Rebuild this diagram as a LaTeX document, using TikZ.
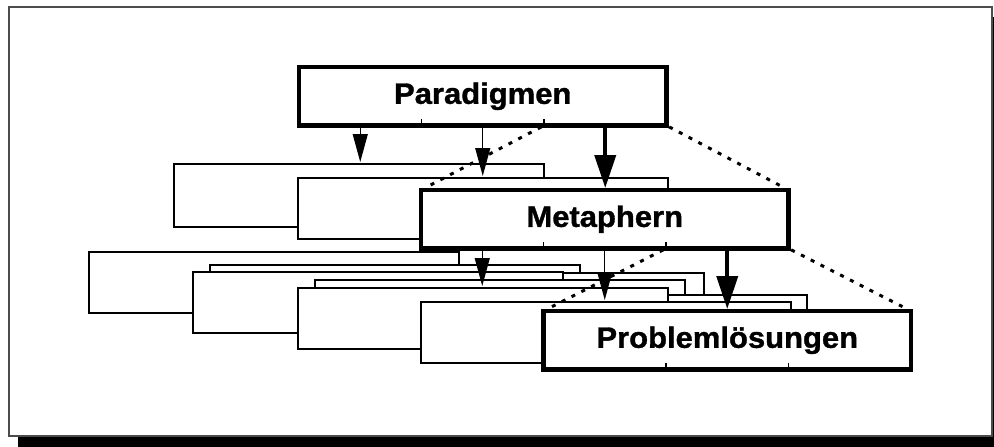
\documentclass[tikz,border=0pt]{standalone}
\usepackage{fontspec}
\setmainfont{Liberation Sans}[FakeStretch=1.05, BoldFeatures={FakeBold=1.2}]
\usetikzlibrary{arrows.meta, calc}

\begin{document}
\begin{tikzpicture}[x=1pt, y=-1pt,
  box/.style={draw, fill=white, line width=1.2pt, anchor=north west, inner sep=0pt,
              outer sep=0pt, minimum width=370pt, minimum height=61pt},
  key/.style={box, line width=4.5pt, minimum width=367.5pt, minimum height=58.5pt,
              font=\fontsize{29.5}{30}\selectfont\bfseries},
  ar/.style={-{Triangle[width=15pt, length=28pt]}, line width=1.2pt, shorten >=2pt},
  arb/.style={-{Triangle[width=21pt, length=33pt]}, line width=4pt, shorten >=2pt},
  dt/.style={line width=3pt, dash pattern=on 4pt off 7pt, shorten <=3pt, shorten >=4pt},
  tk/.style={line width=1.3pt}
]
\useasboundingbox (0,0) rectangle (994,447);
\clip (0,0) rectangle (994,447);
\fill[black] (18,17) rectangle (1000,450);
\draw[draw=black!70, fill=white, line width=1.5pt] (9,7) rectangle (992,436);

\node[box] (s11) at (89,252) {};
\node[box] (s12) at (210,265) {};
\node[box] (s13) at (334,273) {};
\node[box] (s21) at (193,272) {};
\node[box] (s22) at (315,280) {};
\node[box] (s23) at (437,295) {};
\node[box] (s31) at (298,288) {};
\node[box] (s32) at (421,302) {};
\node[key] (s) at (543.5,311) {Problemlösungen};

\node[box, minimum height=63pt] (m1) at (174,164) {};
\node[box] (m2) at (298,178) {};
\node[key] (m) at (421,190) {Metaphern};

\node[key] (p) at (299,67) {Paradigmen};

\foreach \n in {p,m,s} {
  \draw[tk] ($(\n.south west)!1/3!(\n.south east)$) -- ++(0,-7);
  \draw[tk] ($(\n.south west)!2/3!(\n.south east)$) coordinate (\n-t) -- ++(0,-7);
}
\foreach \n in {p,m} {
  \coordinate (\n-a) at ($(\n.south west)!1/6!(\n.south east)$);
  \coordinate (\n-b) at ($(\n.south west)!1/2!(\n.south east)$);
  \coordinate (\n-c) at ($(\n.south west)!5/6!(\n.south east)$);
}

\draw[ar] (p-a) -- (p-a |- m1.north);
\draw[ar] (p-b) -- (p-b |- m2.north);
\draw[arb] (p-c) -- (p-c |- m.north);
\draw[ar] (m-a) -- (m-a |- s31.north);
\draw[ar] (m-b) -- (m-b |- s32.north);
\draw[arb] (m-c) -- (m-c |- s.north);

\draw[dt] (p-t) -- (m.north west);
\draw[dt] (p.south east) -- (m.north east);
\draw[dt] (m-t) -- (s.north west);
\draw[dt] (m.south east) -- (s.north east);
\end{tikzpicture}
\end{document}
